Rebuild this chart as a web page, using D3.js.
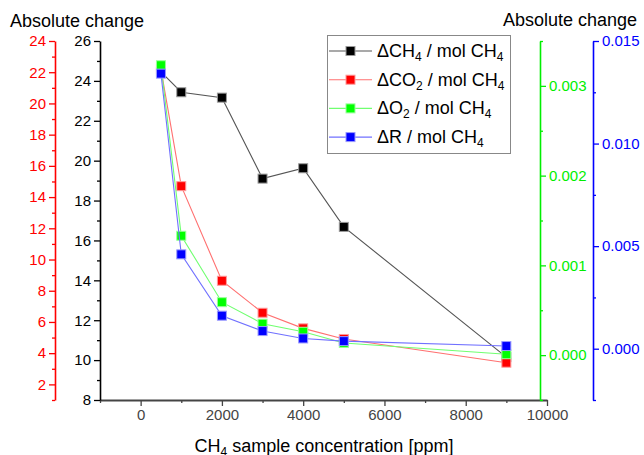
<!DOCTYPE html>
<html lang="en">
<head>
<meta charset="utf-8">
<title>Absolute change vs CH4 sample concentration</title>
<script src="https://cdnjs.cloudflare.com/ajax/libs/d3/7.8.5/d3.min.js"></script>
<style>
  body { margin: 0; background: #fff; }
  svg text { font-family: "Liberation Sans", Arial, sans-serif; }
  .tick text { font-size: 15px; }
</style>
</head>
<body>
<div id="chart"></div>
<script>
// data
var conc = [500, 1000, 2000, 3000, 4000, 5000, 9000];
var dCH4 = [24.45, 23.43, 23.16, 19.1, 19.62, 16.68, 10.15];
var dCO2 = [22.2, 14.7, 8.64, 6.59, 5.59, 4.91, 3.39];
var dO2 = [0.00323, 0.00133, 0.00059, 0.00035, 0.00026, 0.000135, 0.00001];
var dR = [0.01341, 0.0046, 0.00161, 0.00086, 0.0005, 0.00037, 0.00013];

var xTicks = [0, 2000, 4000, 6000, 8000, 10000];
var blackTicks = [8, 10, 12, 14, 16, 18, 20, 22, 24, 26];
var redTicks = [2, 4, 6, 8, 10, 12, 14, 16, 18, 20, 22, 24];
var greenTicks = [0, 0.001, 0.002, 0.003];
var blueTicks = [0, 0.005, 0.01, 0.015];

function drawChart() {
  var width = 644, height = 455;
  var plotTop = 41, plotBottom = 400;

  var svg = d3.select("#chart").append("svg")
    .attr("width", width)
    .attr("height", height);

  var x = d3.scaleLinear().domain([-1000, 10000]).range([100, 547]);
  var yBlack = d3.scaleLinear().domain([8, 26]).range([plotBottom, plotTop]);
  var yRed = d3.scaleLinear().domain([1, 24]).range([plotBottom, plotTop]);
  var yGreen = d3.scaleLinear().domain([-0.0005, 0.0035]).range([plotBottom, plotTop]);
  var yBlue = d3.scaleLinear().domain([-0.0025, 0.015]).range([plotBottom, plotTop]);

  function drawAxis(axisFn, scale, pos, major, minor, fmt, color, strokeW) {
    var g = svg.append("g").attr("transform", pos);
    g.call(axisFn(scale).tickValues(minor).tickSize(3).tickFormat(""));
    g.select(".domain").remove();
    var gm = svg.append("g").attr("transform", pos)
      .call(axisFn(scale).tickValues(major).tickSize(6).tickSizeOuter(0).tickPadding(3).tickFormat(fmt));
    [g, gm].forEach(function (s) {
      s.selectAll("line").attr("stroke", color).attr("stroke-width", 1.3);
      s.selectAll("text").attr("fill", color);
    });
    gm.select(".domain").attr("stroke", color).attr("stroke-width", strokeW);
    return gm;
  }

  // x axis
  drawAxis(d3.axisBottom, x, "translate(0," + plotBottom + ")", xTicks,
    d3.range(-1000, 10000, 2000), d3.format("d"), "#444", 2);

  // left axes
  drawAxis(d3.axisLeft, yBlack, "translate(100,0)", blackTicks,
    d3.range(9, 26, 2), d3.format("d"), "#000", 1.6);
  drawAxis(d3.axisLeft, yRed, "translate(55,0)", redTicks,
    d3.range(1, 25, 2), d3.format("d"), "#ff0000", 1.6);

  // right axes
  drawAxis(d3.axisRight, yGreen, "translate(540,0)", greenTicks,
    [-0.0005, 0.0005, 0.0015, 0.0025, 0.0035], d3.format(".3f"), "#00ee00", 1.6);
  drawAxis(d3.axisRight, yBlue, "translate(593,0)", blueTicks,
    [-0.0025, 0.0025, 0.0075, 0.0125], d3.format(".3f"), "#0000ff", 1.6);

  // axis titles
  svg.append("text").attr("x", 10).attr("y", 27)
    .attr("font-size", 18).text("Absolute change");
  svg.append("text").attr("x", 637).attr("y", 26).attr("text-anchor", "end")
    .attr("font-size", 18).text("Absolute change");

  var xl = svg.append("text").attr("x", 324).attr("y", 452)
    .attr("text-anchor", "middle").attr("font-size", 18);
  xl.append("tspan").text("CH");
  xl.append("tspan").attr("font-size", 12).attr("dy", 4).text("4");
  xl.append("tspan").attr("dy", -4).text(" sample concentration [ppm]");

  // series
  var series = [
    { name: "CH", sub: "4", vals: dCH4, y: yBlack, line: "#555555", fill: "#000000", edge: "#999999" },
    { name: "CO", sub: "2", vals: dCO2, y: yRed, line: "#ff7070", fill: "#ff0000", edge: "#ff9a9a" },
    { name: "O", sub: "2", vals: dO2, y: yGreen, line: "#70ff70", fill: "#00ff00", edge: "#9aff9a" },
    { name: "R", sub: "", vals: dR, y: yBlue, line: "#7070ff", fill: "#0000ff", edge: "#9a9aff" }
  ];

  series.forEach(function (s) {
    var pts = conc.map(function (c, i) { return [c, s.vals[i]]; });
    var line = d3.line()
      .x(function (d) { return x(d[0]); })
      .y(function (d) { return s.y(d[1]); });
    svg.append("path").datum(pts)
      .attr("d", line)
      .attr("fill", "none")
      .attr("stroke", s.line)
      .attr("stroke-width", 1.1);
    svg.selectAll(null).data(pts).enter().append("rect")
      .attr("x", function (d) { return x(d[0]) - 4.5; })
      .attr("y", function (d) { return s.y(d[1]) - 4.5; })
      .attr("width", 9).attr("height", 9)
      .attr("fill", s.fill)
      .attr("stroke", s.edge)
      .attr("stroke-width", 1);
  });

  // legend
  var leg = svg.append("g");
  leg.append("rect").attr("x", 327.5).attr("y", 35.5)
    .attr("width", 183).attr("height", 118)
    .attr("fill", "#fff").attr("stroke", "#888").attr("stroke-width", 1);

  series.forEach(function (s, i) {
    var ly = 51 + i * 28.7;
    leg.append("line").attr("x1", 329).attr("x2", 372)
      .attr("y1", ly).attr("y2", ly)
      .attr("stroke", s.line).attr("stroke-width", 1.1);
    leg.append("rect").attr("x", 346).attr("y", ly - 4.5)
      .attr("width", 9).attr("height", 9)
      .attr("fill", s.fill).attr("stroke", s.edge);
    var t = leg.append("text").attr("x", 377).attr("y", ly + 6).attr("font-size", 18);
    t.append("tspan").text("\u0394" + s.name);
    if (s.sub) {
      t.append("tspan").attr("font-size", 12).attr("dy", 4).text(s.sub);
      t.append("tspan").attr("dy", -4).text(" / mol CH");
    } else {
      t.append("tspan").text(" / mol CH");
    }
    t.append("tspan").attr("font-size", 12).attr("dy", 4).text("4");
  });
}

drawChart();
</script>
</body>
</html>
